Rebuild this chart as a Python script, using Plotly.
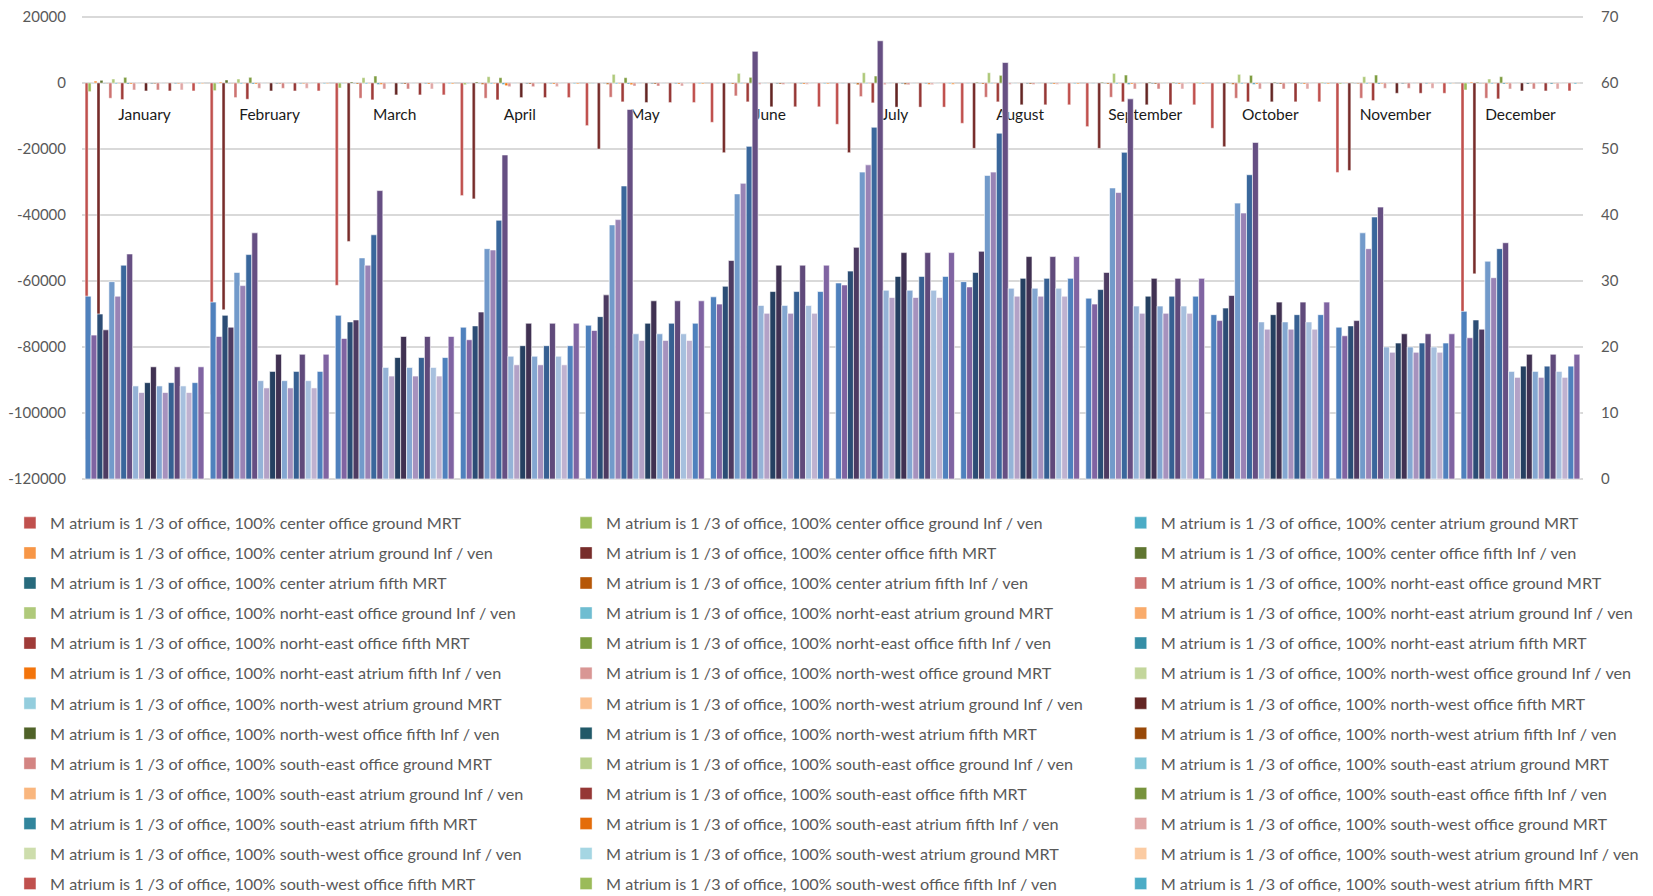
import colorsys

import plotly.graph_objects as go

months = ["January", "February", "March", "April", "May", "June",
          "July", "August", "September", "October", "November", "December"]

# ---- primary (left) axis series, one value per month ----
center_office_ground_mrt = [-108000, -94400, -61300, -34100, -12900, -11900, -12500, -12200, -13200, -13700, -27100, -76900]
center_office_ground_inf = [-2600, -2300, -1500, -500, -100, 0, 0, 0, 0, 0, -300, -2100]
center_atrium_ground_mrt = [-100, -100, -100, -100, -100, -100, -100, -100, -100, -100, -100, -100]
center_atrium_ground_inf = [600, 300, 100, 0, 0, 0, 0, 0, 0, 0, 100, 300]
center_office_fifth_mrt = [-73700, -68700, -48000, -35100, -20000, -21100, -21100, -19800, -19800, -19300, -26500, -57800]
center_office_fifth_inf = [800, 900, 300, 300, 0, 0, 0, 200, 200, 200, 100, 200]
center_atrium_fifth_mrt = [-100, -100, -100, -100, -100, -100, -100, -100, -100, -100, -100, -100]
center_atrium_fifth_inf = [-100, -100, -300, -400, -400, -300, -500, -300, -300, -400, -200, -100]

ne_office_ground_mrt = [-4600, -4400, -4600, -4600, -4300, -3900, -4100, -4300, -4300, -4600, -4600, -4600]
ne_office_ground_inf = [1200, 1200, 1600, 1900, 2600, 2900, 3100, 3100, 2900, 2600, 1900, 1200]
ne_atrium_ground_mrt = [-300, -300, -300, -300, -300, -200, -200, -200, -300, -300, -300, -300]
ne_atrium_ground_inf = [-200, -200, -200, -300, -300, -200, -200, -200, -200, -200, -200, -200]
ne_office_fifth_mrt = [-5000, -4900, -5100, -5100, -5700, -5700, -6000, -5700, -5700, -5700, -5300, -4800]
ne_office_fifth_inf = [1700, 1700, 2100, 1600, 1600, 1700, 2100, 2300, 2400, 2300, 2400, 1900]
ne_atrium_fifth_mrt = [-300, -300, -400, -400, -300, -200, -300, -300, -400, -400, -300, -300]
ne_atrium_fifth_inf = [-300, -300, -400, -800, -500, -300, -300, -300, -300, -300, -200, -200]

nw_office_ground_mrt = [-2100, -1600, -1800, -1100, -900, -400, -500, -400, -1800, -1800, -1600, -1800]
nw_office_ground_inf = [0, 0, 0, 0, 0, 0, 0, 0, 100, 0, 0, 0]
nw_atrium_ground_mrt = [-100, -100, -100, -100, -100, -100, -100, -100, -100, -100, -100, -100]
nw_atrium_ground_inf = [-100, -100, -100, -100, -100, -100, -100, -100, -100, -100, -100, -100]
nw_office_fifth_mrt = [-2400, -2400, -3600, -4400, -5900, -7200, -7300, -6600, -6600, -5700, -3100, -2400]
nw_office_fifth_inf = [0, 0, 0, 0, 0, 0, 0, 0, 200, 200, 0, 0]
nw_atrium_fifth_mrt = [-200, -200, -200, -200, -200, -200, -200, -200, -200, -200, -200, -300]
nw_atrium_fifth_inf = [-200, -200, -300, -300, -300, -300, -400, -300, -300, -300, -100, -100]

se_office_ground_mrt = [-2100, -1600, -1800, -1100, -900, -400, -500, -400, -1800, -1800, -1600, -1800]
se_office_ground_inf = [0, 0, 0, 0, 0, 0, 0, 0, 100, 0, 0, 0]
se_atrium_ground_mrt = [-100, -100, -100, -100, -100, -100, -100, -100, -100, -100, -100, -100]
se_atrium_ground_inf = [-100, -100, -100, -100, -100, -100, -100, -100, -100, -100, -100, -100]
se_office_fifth_mrt = [-2400, -2400, -3600, -4400, -5900, -7200, -7300, -6600, -6600, -5700, -3100, -2400]
se_office_fifth_inf = [0, 0, 0, 0, 0, 0, 0, 0, 200, 200, 0, 0]
se_atrium_fifth_mrt = [-200, -200, -200, -200, -200, -200, -200, -200, -200, -200, -200, -300]
se_atrium_fifth_inf = [-200, -200, -300, -300, -300, -300, -400, -300, -300, -300, -100, -100]

sw_office_ground_mrt = [-2100, -1600, -1800, -1100, -900, -400, -500, -400, -1800, -1800, -1600, -1800]
sw_office_ground_inf = [0, 0, 0, 0, 0, 0, 0, 0, 100, 0, 0, 0]
sw_atrium_ground_mrt = [-100, -100, -100, -100, -100, -100, -100, -100, -100, -100, -100, -100]
sw_atrium_ground_inf = [-100, -100, -100, -100, -100, -100, -100, -100, -100, -100, -100, -100]
sw_office_fifth_mrt = [-2400, -2400, -3600, -4400, -5900, -7200, -7300, -6600, -6600, -5700, -3100, -2400]
sw_office_fifth_inf = [0, 0, 0, 0, 0, 0, 0, 0, 200, 200, 0, 0]
sw_atrium_fifth_mrt = [-200, -200, -200, -200, -200, -200, -200, -200, -200, -200, -200, -300]
sw_atrium_fifth_inf = [-200, -200, -300, -300, -300, -300, -400, -300, -300, -300, -100, -100]

# ---- secondary (right) axis series ----
center_office_ground = [27.7, 26.8, 24.8, 23.0, 23.3, 27.6, 29.7, 29.9, 27.4, 24.9, 23.0, 25.4]
center_atrium_ground = [21.8, 21.6, 21.3, 21.1, 22.5, 26.5, 29.4, 29.1, 26.5, 24.0, 21.7, 21.4]
center_office_fifth = [25.0, 24.8, 23.8, 23.2, 24.6, 29.2, 31.5, 31.3, 28.7, 25.9, 23.2, 24.1]
center_atrium_fifth = [22.6, 23.0, 24.1, 25.3, 27.9, 33.1, 35.1, 34.5, 31.3, 27.8, 24.0, 22.7]
ne_office_ground = [29.9, 31.3, 33.5, 34.9, 38.5, 43.2, 46.5, 46.0, 44.1, 41.8, 37.3, 33.0]
ne_atrium_ground = [27.7, 29.3, 32.4, 34.7, 39.3, 44.8, 47.6, 46.5, 43.4, 40.3, 34.9, 30.5]
ne_office_fifth = [32.4, 34.0, 37.0, 39.2, 44.4, 50.4, 53.3, 52.4, 49.5, 46.1, 39.7, 34.9]
ne_atrium_fifth = [34.1, 37.3, 43.7, 49.1, 56.0, 64.8, 66.4, 63.1, 57.6, 51.0, 41.2, 35.8]
nw_office_ground = [14.1, 14.9, 16.9, 18.6, 22.0, 26.3, 28.6, 28.9, 26.2, 23.8, 20.0, 16.3]
nw_atrium_ground = [13.1, 13.8, 15.6, 17.3, 21.0, 25.1, 27.5, 27.7, 25.1, 22.7, 19.2, 15.4]
nw_office_fifth = [14.6, 16.3, 18.4, 20.2, 23.6, 28.4, 30.7, 30.4, 27.7, 24.9, 20.6, 17.1]
nw_atrium_fifth = [17.0, 18.9, 21.6, 23.6, 27.0, 32.4, 34.3, 33.7, 30.4, 26.8, 22.0, 18.9]
se_office_ground = [14.1, 14.9, 16.9, 18.6, 22.0, 26.3, 28.6, 28.9, 26.2, 23.8, 20.0, 16.3]
se_atrium_ground = [13.1, 13.8, 15.6, 17.3, 21.0, 25.1, 27.5, 27.7, 25.1, 22.7, 19.2, 15.4]
se_office_fifth = [14.6, 16.3, 18.4, 20.2, 23.6, 28.4, 30.7, 30.4, 27.7, 24.9, 20.6, 17.1]
se_atrium_fifth = [17.0, 18.9, 21.6, 23.6, 27.0, 32.4, 34.3, 33.7, 30.4, 26.8, 22.0, 18.9]
sw_office_ground = [14.1, 14.9, 16.9, 18.6, 22.0, 26.3, 28.6, 28.9, 26.2, 23.8, 20.0, 16.3]
sw_atrium_ground = [13.1, 13.8, 15.6, 17.3, 21.0, 25.1, 27.5, 27.7, 25.1, 22.7, 19.2, 15.4]
sw_office_fifth = [14.6, 16.3, 18.4, 20.2, 23.6, 28.4, 30.7, 30.4, 27.7, 24.9, 20.6, 17.1]
sw_atrium_fifth = [17.0, 18.9, 21.6, 23.6, 27.0, 32.4, 34.3, 33.7, 30.4, 26.8, 22.0, 18.9]

left_ticks = [20000, 0, -20000, -40000, -60000, -80000, -100000, -120000]
right_ticks = [0, 10, 20, 30, 40, 50, 60, 70]

prefix = "M atrium is 1 /3 of office, 100% "
locations = ["center", "norht-east", "north-west", "south-east", "south-west"]
primary_parts = ["office ground MRT", "office ground Inf / ven", "atrium ground MRT", "atrium ground Inf / ven",
                 "office fifth MRT", "office fifth Inf / ven", "atrium fifth MRT", "atrium fifth Inf / ven"]
secondary_parts = ["office ground", "atrium ground", "office fifth", "atrium fifth"]

primary_values = [
    center_office_ground_mrt, center_office_ground_inf, center_atrium_ground_mrt, center_atrium_ground_inf,
    center_office_fifth_mrt, center_office_fifth_inf, center_atrium_fifth_mrt, center_atrium_fifth_inf,
    ne_office_ground_mrt, ne_office_ground_inf, ne_atrium_ground_mrt, ne_atrium_ground_inf,
    ne_office_fifth_mrt, ne_office_fifth_inf, ne_atrium_fifth_mrt, ne_atrium_fifth_inf,
    nw_office_ground_mrt, nw_office_ground_inf, nw_atrium_ground_mrt, nw_atrium_ground_inf,
    nw_office_fifth_mrt, nw_office_fifth_inf, nw_atrium_fifth_mrt, nw_atrium_fifth_inf,
    se_office_ground_mrt, se_office_ground_inf, se_atrium_ground_mrt, se_atrium_ground_inf,
    se_office_fifth_mrt, se_office_fifth_inf, se_atrium_fifth_mrt, se_atrium_fifth_inf,
    sw_office_ground_mrt, sw_office_ground_inf, sw_atrium_ground_mrt, sw_atrium_ground_inf,
    sw_office_fifth_mrt, sw_office_fifth_inf, sw_atrium_fifth_mrt, sw_atrium_fifth_inf,
]
secondary_values = [
    center_office_ground, center_atrium_ground, center_office_fifth, center_atrium_fifth,
    ne_office_ground, ne_atrium_ground, ne_office_fifth, ne_atrium_fifth,
    nw_office_ground, nw_atrium_ground, nw_office_fifth, nw_atrium_fifth,
    se_office_ground, se_atrium_ground, se_office_fifth, se_atrium_fifth,
    sw_office_ground, sw_atrium_ground, sw_office_fifth, sw_atrium_fifth,
]

# Office 2007 accent colours and the luminance cycle Excel uses past six series
BLUE, RED, GREEN, PURPLE, AQUA, ORANGE = "#4F81BD", "#C0504D", "#9BBB59", "#8064A2", "#4BACC6", "#F79646"
VARIANTS = [("base", 0), ("shade", 0.6), ("tint", 0.2), ("shade", 0.8), ("tint", 0.4),
            ("shade", 0.5), ("tint", 0.3), ("shade", 0.75), ("tint", 0.5)]


def vary(hex_color, block):
    kind, amount = VARIANTS[block % len(VARIANTS)]
    r, g, b = (int(hex_color[i:i + 2], 16) / 255 for i in (1, 3, 5))
    h, l, s = colorsys.rgb_to_hls(r, g, b)
    if kind == "shade":
        l *= amount
    elif kind == "tint":
        l += (1 - l) * amount
    return "#%02X%02X%02X" % tuple(round(c * 255) for c in colorsys.hls_to_rgb(h, l, s))


FONT = "Lato, sans-serif"
legend_names = ["legend", "legend2", "legend3"]

fig = go.Figure()

for i, values in enumerate(primary_values):
    loc, part = divmod(i, 8)
    block = 2 * loc + (part >= 4)
    base = [RED, GREEN, AQUA, ORANGE][part % 4]
    name = prefix + locations[loc] + " " + primary_parts[part]
    fig.add_trace(go.Bar(
        x=months, y=values, name=name, yaxis="y",
        marker={"color": vary(base, block), "line": {"color": "white", "width": 0.4}},
        legend=legend_names[i % 3], legendgroup=name, showlegend=i < 39,
    ))

for i, values in enumerate(secondary_values):
    loc, part = divmod(i, 4)
    block = 2 * loc + (part >= 2)
    base = [BLUE, PURPLE][part % 2]
    fig.add_trace(go.Bar(
        x=months, y=values, name=prefix + locations[loc] + " " + secondary_parts[part], yaxis="y2",
        marker={"color": vary(base, block), "line": {"color": "white", "width": 0.6}},
        showlegend=False,
    ))

# the page body adds an 8px margin, so the figure is 8px smaller than the window
W, H = 1645, 888
# plotly drops grid lines lying within 1px of the plot edge, so the plot area gets
# 3px of padding above and below the outer ticks (at 303.03 units / 0.0152 units per px)
pad = 3
plot_left, plot_right, plot_top, plot_bottom = 74, 1575, 9 - pad, 471 + pad
left_pad, right_pad = pad * 140000 / 462, pad * 70 / 462
zero_frac = (plot_bottom - 75) / (plot_bottom - plot_top)

legend_common = {
    "orientation": "v", "xanchor": "left", "yanchor": "top", "y": -0.0509,
    "font": {"family": FONT, "size": 16.2, "color": "#595959"},
    "bgcolor": "rgba(0,0,0,0)", "tracegroupgap": 6,
}

fig.update_layout(
    width=W, height=H,
    paper_bgcolor="white", plot_bgcolor="white",
    barmode="group", bargap=0.05, bargroupgap=0,
    margin={"l": plot_left, "r": W - plot_right, "t": plot_top, "b": H - plot_bottom, "autoexpand": False},
    font={"family": FONT, "size": 15, "color": "#595959"},
    xaxis={
        "type": "category", "anchor": "free", "position": zero_frac,
        "showgrid": False, "showline": False, "ticks": "", "ticklabelstandoff": 20,
        "tickfont": {"family": FONT, "size": 15.5, "color": "#1A1A1A"}, "layer": "below traces",
    },
    yaxis={
        "range": [-120000 - left_pad, 20000 + left_pad],
        "tickvals": left_ticks, "ticktext": [str(v) for v in left_ticks],
        "gridcolor": "#D9D9D9", "gridwidth": 1.5, "zeroline": False, "showline": False,
        "tickfont": {"family": FONT, "size": 15, "color": "#595959"}, "ticklabelstandoff": 15,
        "ticklabeloverflow": "allow",
    },
    yaxis2={
        "range": [0 - right_pad, 70 + right_pad],
        "tickvals": right_ticks, "ticktext": [str(v) for v in right_ticks],
        "overlaying": "y", "side": "right", "showgrid": False, "zeroline": False, "showline": False,
        "tickfont": {"family": FONT, "size": 15, "color": "#595959"}, "ticklabelstandoff": 17,
        "ticklabeloverflow": "allow",
    },
    legend={**legend_common, "x": -0.048},
    legend2={**legend_common, "x": 0.3225},
    legend3={**legend_common, "x": 0.692},
)

fig.write_html("out.html")
